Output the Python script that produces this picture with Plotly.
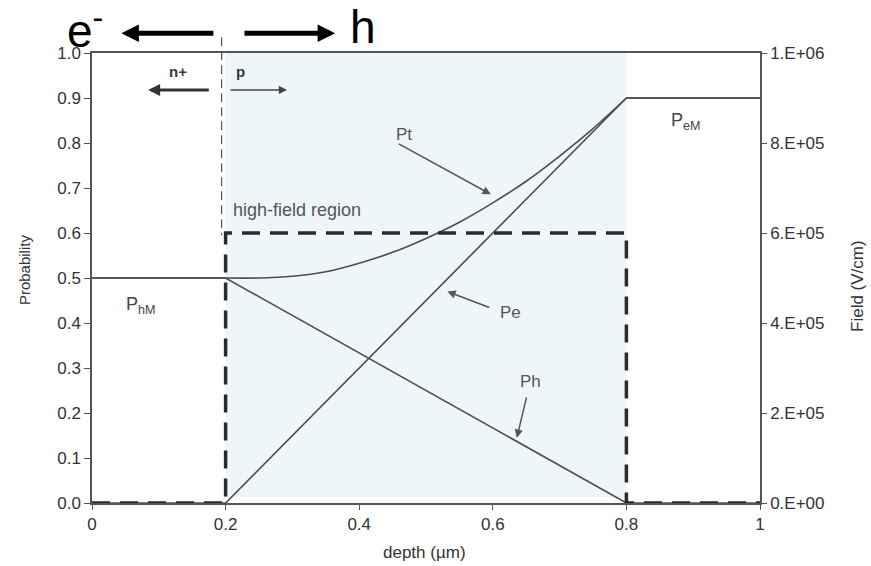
import plotly.graph_objects as go

# depth grid (µm) for the total probability curve inside the high-field region
depth = [0.2, 0.25, 0.3, 0.35, 0.4, 0.45, 0.5, 0.55, 0.6, 0.65, 0.7, 0.75, 0.8]
p_total = [0.5, 0.5, 0.504, 0.514, 0.533, 0.557, 0.588, 0.624, 0.667, 0.715, 0.771, 0.832, 0.9]
# flat parts of Pt outside the region
depth_t_flat = [0.0, 0.2, None, 0.8, 1.0]
p_total_flat = [0.5, 0.5, None, 0.9, 0.9]

depth_e = [0.0, 0.2, 0.8, 1.0]
p_electron = [0.0, 0.0, 0.9, 0.9]

depth_h = [0.0, 0.2, 0.8, 1.0]
p_hole = [0.5, 0.5, 0.0, 0.0]

# electric field profile (V/cm)
depth_f = [0.0, 0.2, 0.2, 0.8, 0.8, 1.0]
field = [0.0, 0.0, 6e5, 6e5, 0.0, 0.0]

x_ticks = [0, 0.2, 0.4, 0.6, 0.8, 1]
x_ticktext = ["0", "0.2", "0.4", "0.6", "0.8", "1"]
y_ticks = [0.0, 0.1, 0.2, 0.3, 0.4, 0.5, 0.6, 0.7, 0.8, 0.9, 1.0]
f_ticks = [0, 2e5, 4e5, 6e5, 8e5, 1e6]
f_ticktext = ["0.E+00", "2.E+05", "4.E+05", "6.E+05", "8.E+05", "1.E+06"]

FONT = "Liberation Sans, Arial, sans-serif"
NARROW = "Liberation Sans Narrow, Liberation Sans, sans-serif"
LINE = "#4d4d4d"
TXT = "#3a3a3a"

fig = go.Figure()

line_style = dict(color=LINE, width=1.6)
fig.add_trace(go.Scatter(x=depth_h, y=p_hole, mode="lines", line=line_style, cliponaxis=False))
fig.add_trace(go.Scatter(x=depth_e, y=p_electron, mode="lines", line=line_style, cliponaxis=False))
fig.add_trace(go.Scatter(x=depth_t_flat, y=p_total_flat, mode="lines", line=line_style, cliponaxis=False))
fig.add_trace(go.Scatter(x=depth, y=p_total, mode="lines",
                         line=dict(color=LINE, width=1.6, shape="spline", smoothing=0.8), cliponaxis=False))
fig.add_trace(go.Scatter(x=depth_f, y=field, mode="lines", yaxis="y2",
                         line=dict(color="#2b2b2b", width=3.5, dash="18px,10px"), cliponaxis=False))

# high-field region shading
fig.add_shape(type="rect", xref="x", yref="y", x0=0.2, x1=0.8, y0=0.013, y1=1.0,
              fillcolor="#eef6f9", line=dict(width=0), layer="below")
# junction marker, reaching above the frame
fig.add_shape(type="line", xref="paper", yref="paper", x0=0.194, x1=0.194, y0=1.035, y1=0.595,
              line=dict(color="#555555", width=1.2, dash="9px,5px"))

ann = []

def label(x, y, text, size=17, color=TXT, family=FONT, ref="x", angle=0):
    yref = "y" if ref == "x" else "paper"
    ann.append(dict(x=x, y=y, xref=ref, yref=yref, text=text, showarrow=False,
                    xanchor="center", yanchor="middle", textangle=angle,
                    font=dict(family=family, size=size, color=color)))

def arrow(x0, y0, x1, y1, color=TXT, width=1.4, head=2, size=1.0, ref="x"):
    yref = "y" if ref == "x" else "paper"
    a = dict(x=x1, y=y1, xref=ref, yref=yref, text="", showarrow=True, arrowhead=head,
             arrowsize=size, arrowwidth=width, arrowcolor=color, standoff=0, startstandoff=0)
    if ref == "x":
        a.update(ax=x0, ay=y0, axref="x", ayref="y")
    else:
        # tail offset in pixels (plot width 668 px, height 450 px)
        a.update(ax=(x0 - x1) * 668, ay=-(y0 - y1) * 450)
    ann.append(a)

# axis titles
label(0.4985, -0.111, "depth (µm)", size=17, color="#333333", ref="paper")
label(-0.100, 0.518, "Probability", size=15, color="#333333", ref="paper", angle=-90)
label(1.145, 0.482, "Field (V/cm)", size=17, color="#333333", ref="paper", angle=-90)

# carrier direction labels above the frame
label(-0.01, 1.055, "e<sup>-</sup>", size=46, color="#000000", family=NARROW, ref="paper")
label(0.406, 1.058, "h", size=46, color="#000000", family=NARROW, ref="paper")
arrow(0.184, 1.044, 0.044, 1.044, color="#000000", width=5, head=2, size=0.7, ref="paper")
arrow(0.226, 1.044, 0.364, 1.044, color="#000000", width=5, head=2, size=0.7, ref="paper")

# doping regions
label(0.128, 0.958, "<b>n+</b>", size=15)
label(0.222, 0.958, "<b>p</b>", size=15)
arrow(0.177, 0.918, 0.084, 0.918, color="#333333", width=3, head=2, size=0.8)
arrow(0.205, 0.918, 0.292, 0.918, color="#444444", width=1.5, head=2, size=1.1)

label(0.307, 0.652, "high-field region", size=18, color="#555555")

# curve labels
label(0.467, 0.818, "Pt", size=17, color="#555555")
arrow(0.457, 0.800, 0.597, 0.686, color="#555555", width=1.5, head=2, size=1.1)
label(0.627, 0.424, "Pe", size=17, color="#555555")
arrow(0.597, 0.433, 0.532, 0.470, color="#555555", width=1.5, head=2, size=1.1)
label(0.657, 0.271, "Ph", size=17, color="#555555")
arrow(0.651, 0.238, 0.636, 0.145, color="#555555", width=1.5, head=2, size=1.1)

label(0.073, 0.440, "P<sub>hM</sub>", size=18, color="#444444")
label(0.889, 0.847, "P<sub>eM</sub>", size=18, color="#444444")

tick_font = dict(family=FONT, size=17, color="#333333")

fig.update_layout(
    width=871, height=566,
    margin=dict(l=92, r=111, t=53, b=63),
    paper_bgcolor="white", plot_bgcolor="white",
    showlegend=False,
    annotations=ann,
    xaxis=dict(range=[0, 1], tickvals=x_ticks, ticktext=x_ticktext, automargin=False,
               showgrid=False, zeroline=False, showline=True, linecolor="#555555", linewidth=1.5,
               mirror=True, ticks="outside", ticklen=5, tickcolor="#555555", tickfont=tick_font),
    yaxis=dict(range=[0, 1], tickvals=y_ticks, tickformat=".1f", automargin=False,
               showgrid=False, zeroline=False, showline=True, linecolor="#555555", linewidth=1.5,
               ticks="outside", ticklen=6, tickcolor="#555555", tickfont=tick_font),
    yaxis2=dict(range=[0, 1e6], overlaying="y", side="right", tickvals=f_ticks, ticktext=f_ticktext,
                automargin=False,
                showgrid=False, zeroline=False, showline=True, linecolor="#555555", linewidth=1.5,
                ticks="outside", ticklen=5, tickcolor="#555555", tickfont=tick_font),
)

fig.write_html("out.html")
